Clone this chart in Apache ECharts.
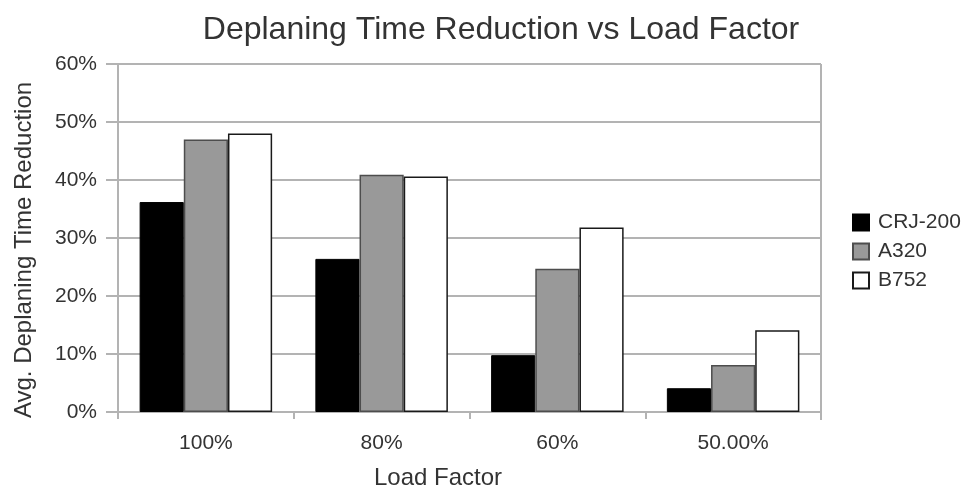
<!DOCTYPE html>
<html>
<head>
<meta charset="utf-8">
<script src="https://cdn.jsdelivr.net/npm/echarts@6/dist/echarts.min.js"></script>
<style>
html,body{margin:0;padding:0;background:#fff;}
#chart{width:968px;height:495px;}
</style>
</head>
<body>
<div id="chart"></div>
<script>
var categories = ['100%', '80%', '60%', '50.00%'];
var crj200 = [36.2, 26.4, 9.8, 4.1];
var a320 = [47.0, 40.9, 24.7, 8.1];
var b752 = [48.0, 40.6, 31.8, 14.1];
var yTicks = [0, 10, 20, 30, 40, 50, 60];

var FONT = '"Liberation Sans", Arial, sans-serif';
var TXT = '#333333';
var chart = echarts.init(document.getElementById('chart'), null, {renderer: 'canvas'});
chart.setOption({
  animation: false,
  backgroundColor: '#ffffff',
  title: {
    text: 'Deplaning Time Reduction vs Load Factor',
    left: 496, top: 9, textAlign: 'center',
    textStyle: {fontFamily: FONT, fontSize: 32, fontWeight: 'normal', color: TXT}
  },
  legend: {
    orient: 'vertical', left: 847, top: 207,
    itemWidth: 16, itemHeight: 16, itemGap: 8,
    icon: 'rect',
    textStyle: {fontFamily: FONT, fontSize: 21, color: TXT, padding: [0, 0, 0, 4]},
    data: ['CRJ-200', 'A320', 'B752']
  },
  grid: {left: 118, right: 147, top: 64, bottom: 81},
  xAxis: {
    type: 'category', data: categories,
    name: 'Load Factor', nameLocation: 'middle', nameGap: 54,
    nameTextStyle: {fontFamily: FONT, fontSize: 24, color: TXT, padding: [0, 63, 0, 0]},
    axisLine: {show: true, lineStyle: {color: '#b3b3b3', width: 2}},
    axisTick: {show: true, length: 7, lineStyle: {color: '#b3b3b3', width: 2}},
    axisLabel: {fontFamily: FONT, fontSize: 21, color: TXT, margin: 21}
  },
  yAxis: {
    type: 'value', min: yTicks[0], max: yTicks[yTicks.length - 1], interval: 10,
    name: 'Avg. Deplaning Time Reduction', nameLocation: 'middle', nameGap: 82,
    nameTextStyle: {fontFamily: FONT, fontSize: 24, color: TXT, padding: [0, 24, 0, 0]},
    axisLine: {show: true, lineStyle: {color: '#b3b3b3', width: 2}},
    axisTick: {show: true, length: 12, lineStyle: {color: '#b3b3b3', width: 2}},
    axisLabel: {fontFamily: FONT, fontSize: 21, color: TXT, margin: 21, formatter: '{value}%'},
    splitLine: {show: true, lineStyle: {color: '#b3b3b3', width: 2}}
  },
  series: [
    {name: 'CRJ-200', type: 'bar', data: crj200, barGap: '0%', barCategoryGap: '24.6%',
     itemStyle: {color: '#000000', borderColor: '#000000', borderWidth: 1}},
    {name: 'A320', type: 'bar', data: a320,
     itemStyle: {color: '#999999', borderColor: '#4d4d4d', borderWidth: 1.5}},
    {name: 'B752', type: 'bar', data: b752,
     itemStyle: {color: '#ffffff', borderColor: '#1a1a1a', borderWidth: 1.5}}
  ],
  graphic: [{
    type: 'line', shape: {x1: 821, y1: 64, x2: 821, y2: 420},
    style: {stroke: '#b3b3b3', lineWidth: 2}, silent: true
  }]
});
</script>
</body>
</html>
